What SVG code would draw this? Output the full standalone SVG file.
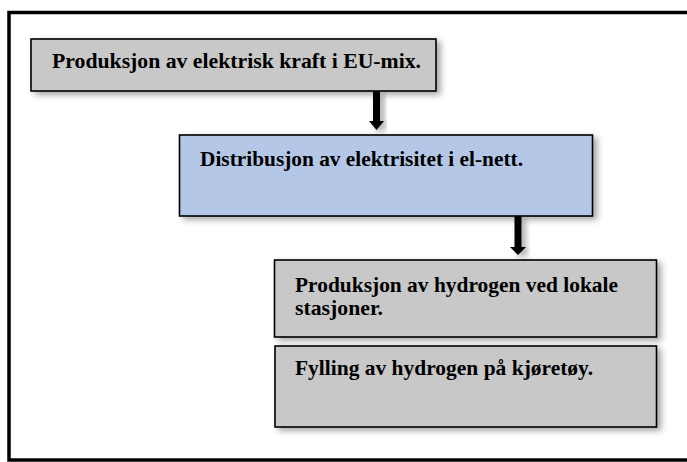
<svg xmlns="http://www.w3.org/2000/svg" width="687" height="462" viewBox="0 0 687 462">
  <style>
    .box { stroke: #000; stroke-width: 1.6; filter: url(#shadow); }
    .grey { fill: #c8c8c8; }
    .blue { fill: #b4c7e7; }
    .label { font-family: "Liberation Serif", "Times New Roman", serif; font-weight: bold; font-size: 21.5px; fill: #000; }
    .arrow { fill: #000; filter: url(#shadow); }
  </style>
  <defs>
    <filter id="shadow" x="-20%" y="-20%" width="140%" height="160%">
      <feDropShadow dx="4" dy="3" stdDeviation="3" flood-color="#000" flood-opacity="0.35"/>
    </filter>
  </defs>

  <rect width="687" height="462" fill="#fff"/>
  <!-- outer frame -->
  <rect x="9" y="12.5" width="700" height="447.5" fill="none" stroke="#000" stroke-width="3.5"/>

  <g id="connectors">
    <path class="arrow" d="M373 91 H380 V121 H384 L376.5 130 L369 121 H373 Z"/>
    <path class="arrow" d="M514.5 216 H521.5 V247 H526 L518 255 L510 247 H514.5 Z"/>
  </g>

  <g id="node-produksjon-kraft">
    <rect class="box grey" x="31" y="39" width="405" height="52"/>
    <text class="label" x="52" y="68" textLength="369" lengthAdjust="spacingAndGlyphs">Produksjon av elektrisk kraft i EU-mix.</text>
  </g>

  <g id="node-distribusjon">
    <rect class="box blue" x="179.5" y="135" width="413" height="81"/>
    <text class="label" x="200" y="166" textLength="323" lengthAdjust="spacingAndGlyphs">Distribusjon av elektrisitet i el-nett.</text>
  </g>

  <g id="node-produksjon-hydrogen">
    <rect class="box grey" x="274.5" y="260" width="382" height="77"/>
    <text class="label" x="295" y="292" textLength="323" lengthAdjust="spacingAndGlyphs">Produksjon av hydrogen ved lokale</text>
    <text class="label" x="295" y="315" textLength="88" lengthAdjust="spacingAndGlyphs">stasjoner.</text>
  </g>

  <g id="node-fylling">
    <rect class="box grey" x="275" y="346" width="381.5" height="81"/>
    <text class="label" x="295" y="375" textLength="298" lengthAdjust="spacingAndGlyphs">Fylling av hydrogen på kjøretøy.</text>
  </g>
</svg>
